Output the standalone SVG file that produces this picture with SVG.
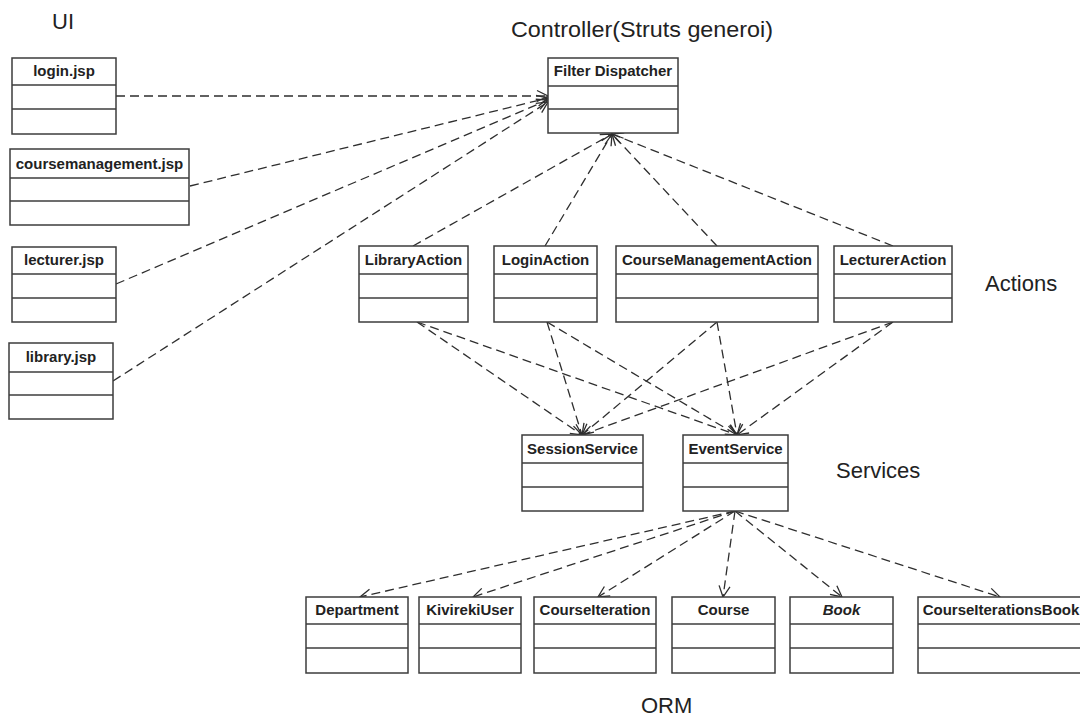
<svg xmlns="http://www.w3.org/2000/svg" width="1080" height="716" viewBox="0 0 1080 716">
<style>
.box{fill:#fff;stroke:#3c3c3c;stroke-width:1.5}
.sep{stroke:#3c3c3c;stroke-width:1.5}
.t{font-family:"Liberation Sans",Arial,sans-serif;font-weight:bold;font-size:15px;fill:#222;text-anchor:middle}
.it{font-style:italic}
.lbl{font-family:"Liberation Sans",Arial,sans-serif;font-size:22px;fill:#222}
.dep{fill:none;stroke:#2e2e2e;stroke-width:1.3;stroke-dasharray:9 5;marker-end:url(#arr)}
</style>
<defs>
<marker id="arr" markerUnits="userSpaceOnUse" markerWidth="14" markerHeight="14" refX="12" refY="7" orient="auto">
<path d="M1,1.5 L12,7 L1,12.5" fill="none" stroke="#2e2e2e" stroke-width="1.3" stroke-dasharray="none"/>
</marker>
</defs>
<rect width="1080" height="716" fill="#fff"/>

<text class="lbl" x="52" y="29">UI</text>
<text class="lbl" x="511" y="37" textLength="262" lengthAdjust="spacingAndGlyphs">Controller(Struts generoi)</text>
<text class="lbl" x="985" y="291">Actions</text>
<text class="lbl" x="836" y="478">Services</text>
<text class="lbl" x="641" y="713">ORM</text>

<g id="connectors">
<line class="dep" x1="116" y1="96" x2="548" y2="96"/>
<line class="dep" x1="190" y1="186" x2="548" y2="98"/>
<line class="dep" x1="116" y1="284" x2="548" y2="100"/>
<line class="dep" x1="113" y1="381" x2="548" y2="102"/>

<line class="dep" x1="413" y1="246" x2="612" y2="134"/>
<line class="dep" x1="545" y1="246" x2="612" y2="134"/>
<line class="dep" x1="717" y1="246" x2="612" y2="134"/>
<line class="dep" x1="893" y1="246" x2="612" y2="134"/>

<line class="dep" x1="417" y1="322" x2="582" y2="435"/>
<line class="dep" x1="417" y1="322" x2="737" y2="435"/>
<line class="dep" x1="547" y1="322" x2="582" y2="435"/>
<line class="dep" x1="547" y1="322" x2="737" y2="435"/>
<line class="dep" x1="717" y1="322" x2="582" y2="435"/>
<line class="dep" x1="717" y1="322" x2="737" y2="435"/>
<line class="dep" x1="893" y1="322" x2="582" y2="435"/>
<line class="dep" x1="893" y1="322" x2="737" y2="435"/>

<line class="dep" x1="735" y1="511" x2="360" y2="597"/>
<line class="dep" x1="735" y1="511" x2="473" y2="597"/>
<line class="dep" x1="735" y1="511" x2="598" y2="597"/>
<line class="dep" x1="735" y1="511" x2="723" y2="597"/>
<line class="dep" x1="735" y1="511" x2="842" y2="597"/>
<line class="dep" x1="735" y1="511" x2="1000" y2="597"/>
</g>

<g id="login-jsp">
<rect class="box" x="12" y="58" width="104" height="76"/>
<line class="sep" x1="12" y1="85" x2="116" y2="85"/><line class="sep" x1="12" y1="109" x2="116" y2="109"/>
<text class="t" x="64" y="76">login.jsp</text>
</g>
<g id="coursemanagement-jsp">
<rect class="box" x="10" y="149" width="179" height="76"/>
<line class="sep" x1="10" y1="178" x2="189" y2="178"/><line class="sep" x1="10" y1="201" x2="189" y2="201"/>
<text class="t" x="99.5" y="169">coursemanagement.jsp</text>
</g>
<g id="lecturer-jsp">
<rect class="box" x="12" y="247" width="104" height="75"/>
<line class="sep" x1="12" y1="274" x2="116" y2="274"/><line class="sep" x1="12" y1="298" x2="116" y2="298"/>
<text class="t" x="64" y="265">lecturer.jsp</text>
</g>
<g id="library-jsp">
<rect class="box" x="9" y="343" width="104" height="76"/>
<line class="sep" x1="9" y1="372" x2="113" y2="372"/><line class="sep" x1="9" y1="395" x2="113" y2="395"/>
<text class="t" x="61" y="362">library.jsp</text>
</g>

<g id="filter-dispatcher">
<rect class="box" x="548" y="58" width="130" height="75"/>
<line class="sep" x1="548" y1="86" x2="678" y2="86"/><line class="sep" x1="548" y1="109" x2="678" y2="109"/>
<text class="t" x="613" y="76">Filter Dispatcher</text>
</g>

<g id="library-action">
<rect class="box" x="359" y="246" width="109" height="76"/>
<line class="sep" x1="359" y1="274" x2="468" y2="274"/><line class="sep" x1="359" y1="298" x2="468" y2="298"/>
<text class="t" x="413.5" y="265">LibraryAction</text>
</g>
<g id="login-action">
<rect class="box" x="494" y="246" width="103" height="76"/>
<line class="sep" x1="494" y1="274" x2="597" y2="274"/><line class="sep" x1="494" y1="298" x2="597" y2="298"/>
<text class="t" x="545.5" y="265">LoginAction</text>
</g>
<g id="coursemanagement-action">
<rect class="box" x="616" y="246" width="202" height="76"/>
<line class="sep" x1="616" y1="274" x2="818" y2="274"/><line class="sep" x1="616" y1="298" x2="818" y2="298"/>
<text class="t" x="717" y="265">CourseManagementAction</text>
</g>
<g id="lecturer-action">
<rect class="box" x="834" y="246" width="118" height="76"/>
<line class="sep" x1="834" y1="274" x2="952" y2="274"/><line class="sep" x1="834" y1="298" x2="952" y2="298"/>
<text class="t" x="893" y="265">LecturerAction</text>
</g>

<g id="session-service">
<rect class="box" x="522" y="435" width="121" height="76"/>
<line class="sep" x1="522" y1="463" x2="643" y2="463"/><line class="sep" x1="522" y1="487" x2="643" y2="487"/>
<text class="t" x="582.5" y="454">SessionService</text>
</g>
<g id="event-service">
<rect class="box" x="683" y="435" width="105" height="76"/>
<line class="sep" x1="683" y1="463" x2="788" y2="463"/><line class="sep" x1="683" y1="487" x2="788" y2="487"/>
<text class="t" x="735.5" y="454">EventService</text>
</g>

<g id="department">
<rect class="box" x="306" y="597" width="102" height="76"/>
<line class="sep" x1="306" y1="624" x2="408" y2="624"/><line class="sep" x1="306" y1="648" x2="408" y2="648"/>
<text class="t" x="357" y="615">Department</text>
</g>
<g id="kivireki-user">
<rect class="box" x="419" y="597" width="102" height="76"/>
<line class="sep" x1="419" y1="624" x2="521" y2="624"/><line class="sep" x1="419" y1="648" x2="521" y2="648"/>
<text class="t" x="470" y="615">KivirekiUser</text>
</g>
<g id="course-iteration">
<rect class="box" x="534" y="597" width="122" height="76"/>
<line class="sep" x1="534" y1="624" x2="656" y2="624"/><line class="sep" x1="534" y1="648" x2="656" y2="648"/>
<text class="t" x="595" y="615">CourseIteration</text>
</g>
<g id="course">
<rect class="box" x="672" y="597" width="103" height="76"/>
<line class="sep" x1="672" y1="624" x2="775" y2="624"/><line class="sep" x1="672" y1="648" x2="775" y2="648"/>
<text class="t" x="723.5" y="615">Course</text>
</g>
<g id="book">
<rect class="box" x="790" y="597" width="103" height="76"/>
<line class="sep" x1="790" y1="624" x2="893" y2="624"/><line class="sep" x1="790" y1="648" x2="893" y2="648"/>
<text class="t it" x="841.5" y="615">Book</text>
</g>
<g id="course-iterations-book">
<rect class="box" x="918" y="597" width="168" height="76"/>
<line class="sep" x1="918" y1="624" x2="1086" y2="624"/><line class="sep" x1="918" y1="648" x2="1086" y2="648"/>
<text class="t" x="1001" y="615">CourseIterationsBook</text>
</g>
</svg>
